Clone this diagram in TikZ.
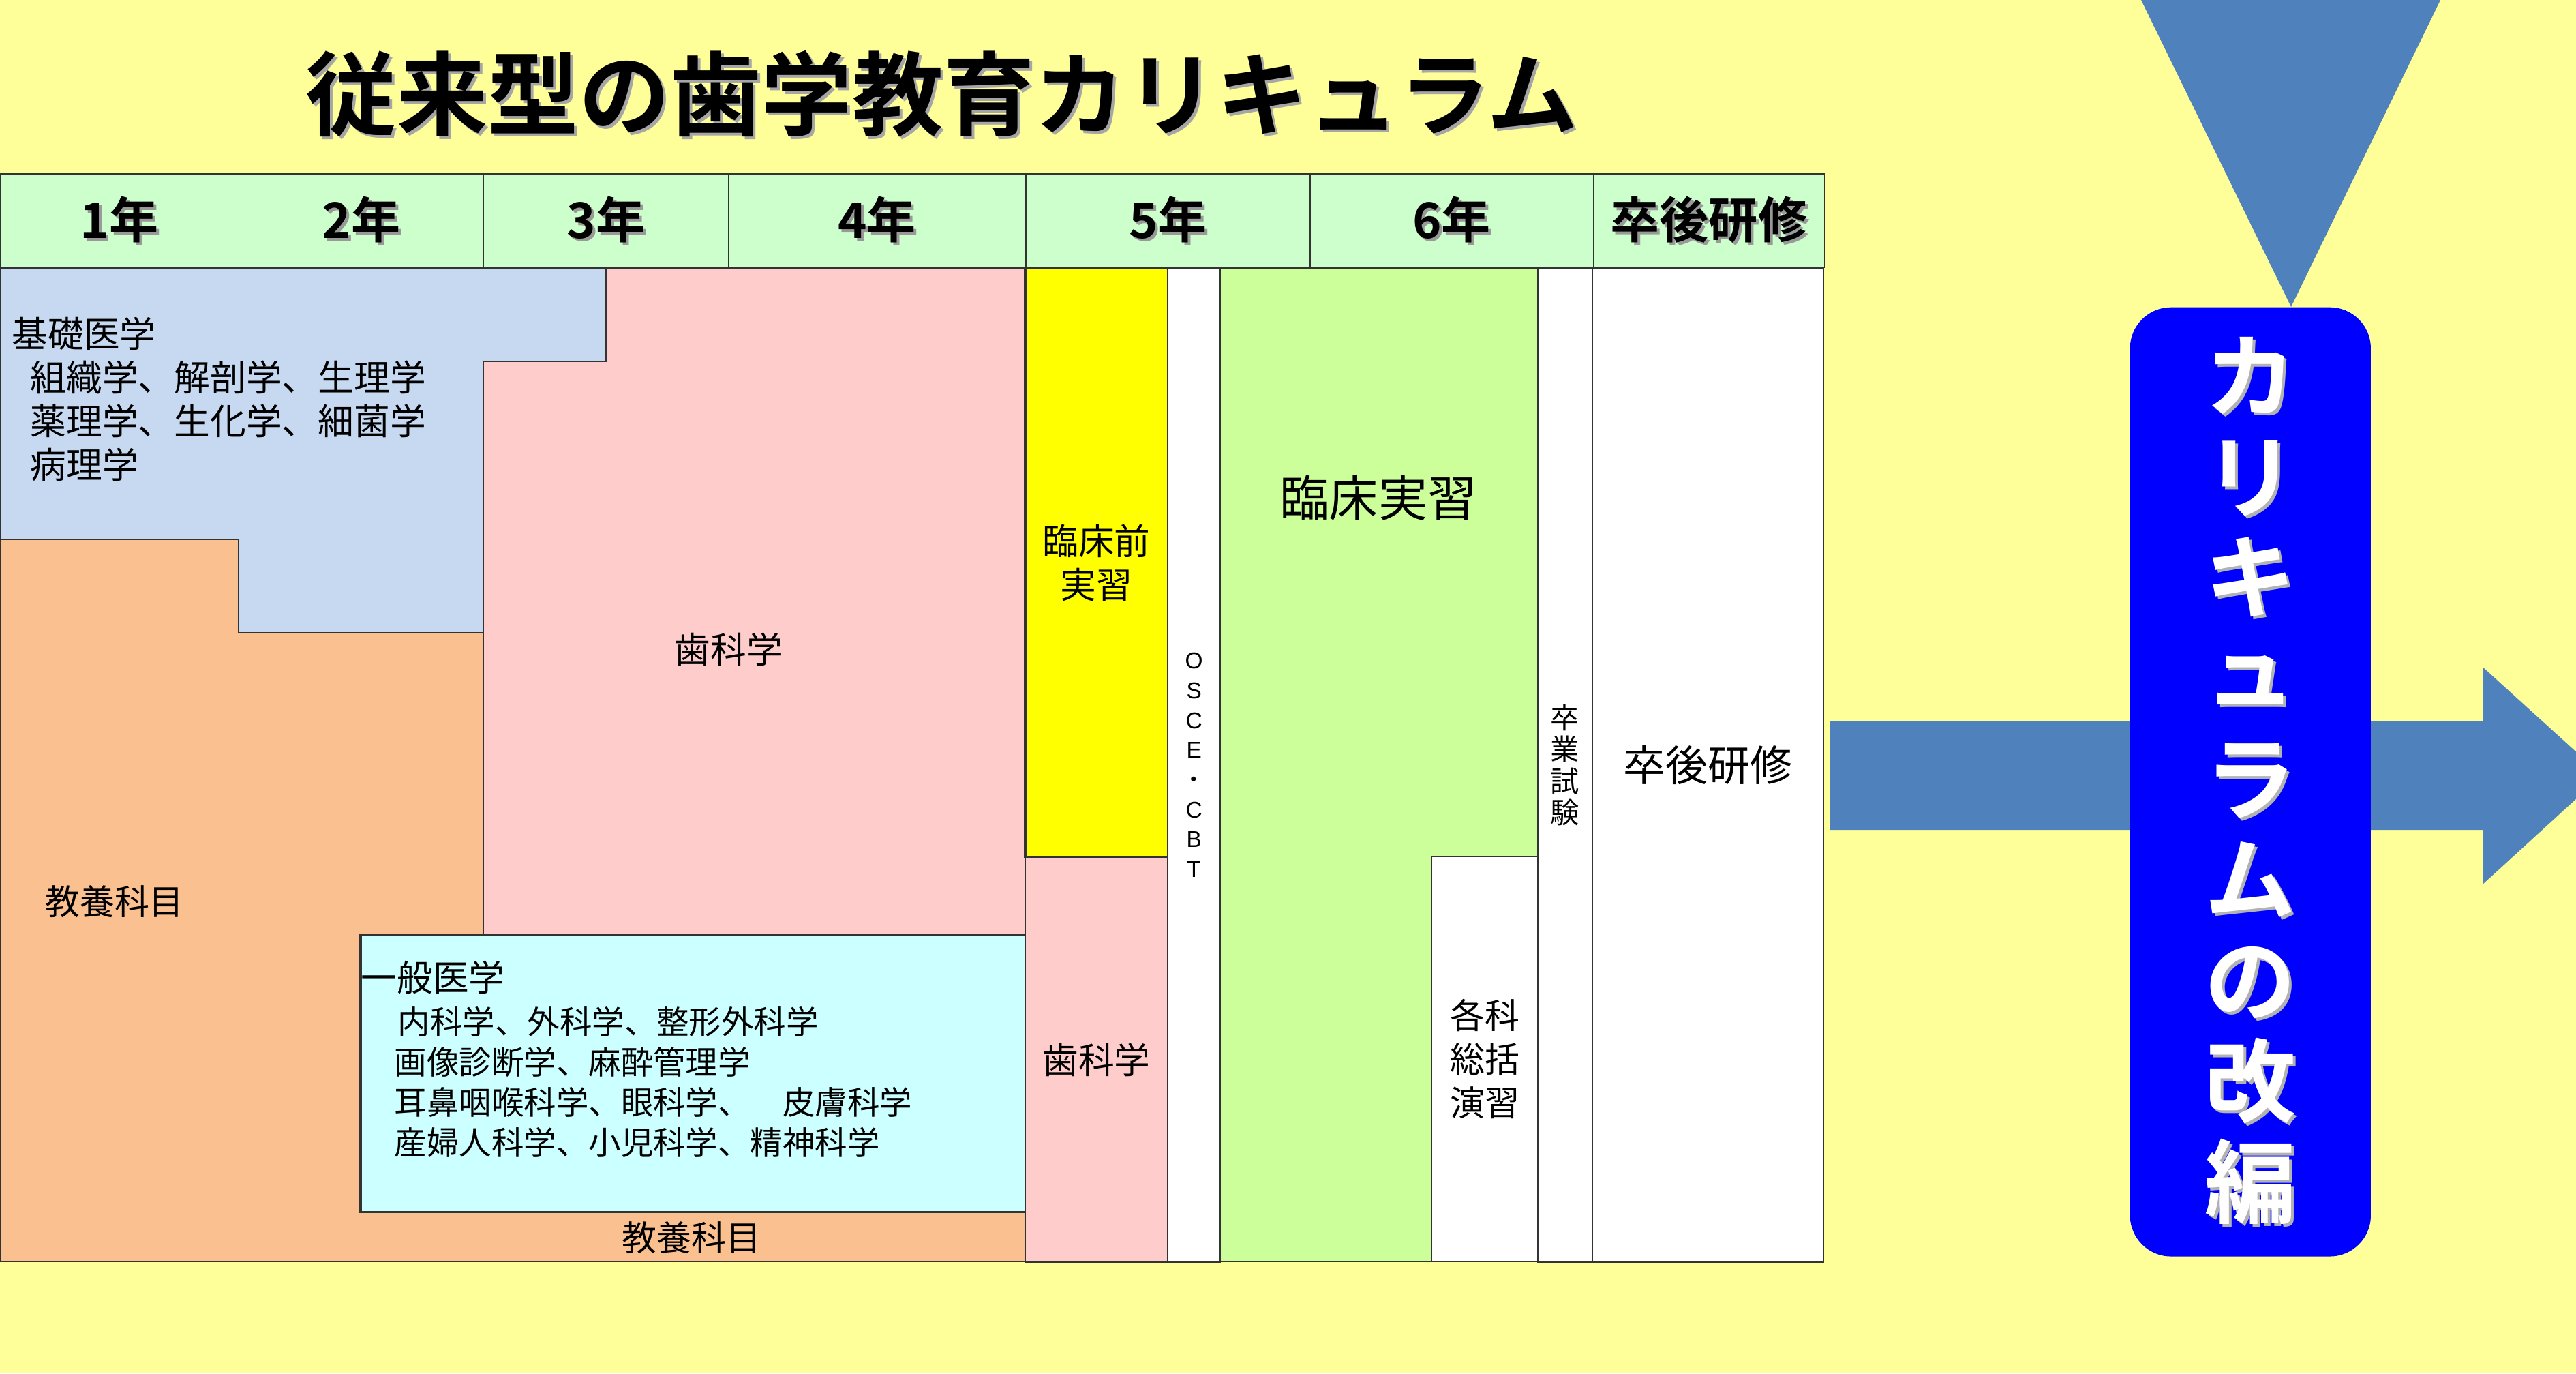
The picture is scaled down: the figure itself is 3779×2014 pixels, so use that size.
\documentclass[tikz,border=0pt]{standalone}
\usepackage{fontspec}
\setmainfont{Noto Sans CJK JP}[BoldFont=* Bold]
\newfontfamily\latinfont{Liberation Sans}
\usepackage{xcolor}
\usetikzlibrary{positioning}

\definecolor{bgyellow}{HTML}{FFFF99}
\definecolor{headgreen}{HTML}{CCFFCC}
\definecolor{basicblue}{HTML}{C6D9F1}
\definecolor{liberalorange}{HTML}{FAC090}
\definecolor{dentalpink}{HTML}{FFCCCC}
\definecolor{medcyan}{HTML}{CCFFFF}
\definecolor{preyellow}{HTML}{FFFF00}
\definecolor{clingreen}{HTML}{CCFF99}
\definecolor{arrowblue}{HTML}{4F81BD}
\definecolor{boxblue}{HTML}{0000FF}

\newcommand{\ftitle}{\bfseries\fontsize{38}{44}\selectfont}
\newcommand{\fyear}{\bfseries\fontsize{20.5}{24}\selectfont}
\newcommand{\fbody}{\fontsize{15}{18.2}\selectfont}
\newcommand{\fitem}{\fontsize{13.5}{16.7}\selectfont}
\newcommand{\fclin}{\fontsize{20.5}{24}\selectfont}
\newcommand{\fpost}{\fontsize{17.6}{21}\selectfont}
\newcommand{\fdrill}{\fontsize{14.5}{18.2}\selectfont}
\newcommand{\fexam}{\fontsize{12}{13.1}\selectfont}
\newcommand{\fosce}{\latinfont\fontsize{9.5}{12.4}\selectfont}
\newcommand{\frevise}{\bfseries\fontsize{38}{42}\selectfont}
\newcommand{\shadowed}[2][black!40]{\leavevmode\rlap{\hspace*{0.04cm}\raisebox{-0.04cm}{\textcolor{#1}{#2}}}#2}

\tikzset{
    yearnode/.style = {draw=black!80, fill=headgreen, rectangle, inner sep=0em, outer sep=0pt,
      minimum height=1.375cm, font=\fyear, anchor=north west},
    cellnode/.style = {draw=black!80, rectangle, inner sep=0em, outer sep=0pt, anchor=north west,
      font=\fbody, line width=0.6pt, align=center},
    textnode/.style = {draw=none, fill=none, rectangle, inner sep=0em, font=\fbody, align=center},
    region/.style = {draw=black!80, line width=0.6pt},
    bluearrow/.style = {fill=arrowblue, draw=none}
}

\begin{document}
\begin{tikzpicture}[x=0.01cm, y=-0.01cm]
    \useasboundingbox (0,0) rectangle (3779,2014);
    \fill[bgyellow] (0,0) rectangle (3779,2014);

    \node [name=title, textnode, font=\ftitle] at (1382,140) {\shadowed[black!35]{従来型の歯学教育カリキュラム}};

    % subject areas, years 1 to 4
    \filldraw[region, fill=basicblue] (0,393) -- (889,393) -- (889,530) -- (709,530) -- (709,928)
        -- (350,928) -- (350,791) -- (0,791) -- cycle;
    \filldraw[region, fill=dentalpink] (889,393) -- (1504,393) -- (1504,1371) -- (709,1371)
        -- (709,530) -- (889,530) -- cycle;
    \filldraw[region, fill=liberalorange] (0,791) -- (350,791) -- (350,928) -- (709,928) -- (709,1371)
        -- (529,1371) -- (529,1777) -- (1504,1777) -- (1504,1850) -- (0,1850) -- cycle;
    \node [name=genmed, cellnode, fill=medcyan, line width=1pt, minimum width=9.75cm,
        minimum height=4.06cm] at (529,1371) {};

    \node [name=basic, textnode, anchor=west, align=left] at (17,585)
        {基礎医学\\\hspace*{0.27cm}組織学、解剖学、生理学\\\hspace*{0.27cm}薬理学、生化学、細菌学\\\hspace*{0.27cm}病理学};
    \node [name=dental, textnode] at (1069,952) {歯科学};
    \node [name=liberal, textnode, font=\fdrill] at (168,1322) {教養科目};
    \node [name=genhead, textnode, anchor=west] at (529,1433) {一般医学};
    \node [name=genlist, textnode, anchor=west, align=left, font=\fitem] at (578,1587)
        {\hspace*{0.05cm}内科学、外科学、整形外科学\\画像診断学、麻酔管理学\\耳鼻咽喉科学、眼科学、　皮膚科学\\産婦人科学、小児科学、精神科学};
    \node [name=liberal2, textnode, font=\fdrill] at (1014,1815) {教養科目};

    % years 5 and 6
    \node [name=pre, cellnode, fill=preyellow, line width=0.9pt, minimum width=2.09cm,
        minimum height=8.64cm] at (1504,393) {臨床前\\実習};
    \node [name=dental5, cellnode, fill=dentalpink, minimum width=2.09cm, minimum height=5.93cm,
        below=0pt of pre] {歯科学};
    \node [name=osce, cellnode, fill=white, font=\fosce, minimum width=0.77cm,
        minimum height=14.57cm] at (pre.north east) {O\\S\\C\\E\\{\normalfont ・}\\C\\B\\T};
    \filldraw[region, fill=clingreen] (1790,393) -- (2256,393) -- (2256,1256) -- (2100,1256)
        -- (2100,1850) -- (1790,1850) -- cycle;
    \node [name=clinic, textnode, font=\fclin] at (2022,730) {臨床実習};
    \node [name=drill, cellnode, fill=white, font=\fdrill, minimum width=1.56cm,
        minimum height=5.94cm] at (2100,1256) {各科\\総括\\演習};
    \node [name=exam, cellnode, fill=white, font=\fexam, minimum width=0.80cm,
        minimum height=14.57cm] at (2256,393) {卒\\業\\試\\験};
    \node [name=post, cellnode, fill=white, font=\fpost, minimum width=3.39cm,
        minimum height=14.57cm] at (2336,393) {卒後研修};

    % year header
    \node [name=y1, yearnode, minimum width=3.50cm] at (0,255) {\shadowed{1年}};
    \node [name=y2, yearnode, minimum width=3.59cm, right=0pt of y1] {\shadowed{2年}};
    \node [name=y3, yearnode, minimum width=3.59cm, right=0pt of y2] {\shadowed{3年}};
    \node [name=y4, yearnode, minimum width=4.36cm, right=0pt of y3] {\shadowed{4年}};
    \node [name=y5, yearnode, minimum width=4.17cm, right=0pt of y4] {\shadowed{5年}};
    \node [name=y6, yearnode, minimum width=4.15cm, right=0pt of y5] {\shadowed{6年}};
    \node [name=y7, yearnode, minimum width=3.39cm, right=0pt of y6] {\shadowed{卒後研修}};

    % revision
    \fill[bluearrow] (2685,1058) -- (3643,1058) -- (3643,979) -- (3817,1137) -- (3643,1296)
        -- (3643,1217) -- (2685,1217) -- cycle;
    \fill[bluearrow] (3140,-2) -- (3581,-2) -- (3361,450) -- cycle;
    \node [name=revise, rectangle, rounded corners=0.6cm, fill=boxblue, text=white, font=\frevise,
        inner sep=0pt, minimum width=3.53cm, minimum height=13.91cm, anchor=north west, align=center] at (3124,450)
        {\shadowed[black!30]{カ}\\\shadowed[black!30]{リ}\\\shadowed[black!30]{キ}\\\raisebox{0.13cm}{\shadowed[black!30]{ュ}}\\\shadowed[black!30]{ラ}\\\shadowed[black!30]{ム}\\\shadowed[black!30]{の}\\\shadowed[black!30]{改}\\\shadowed[black!30]{編}};
\end{tikzpicture}
\end{document}
